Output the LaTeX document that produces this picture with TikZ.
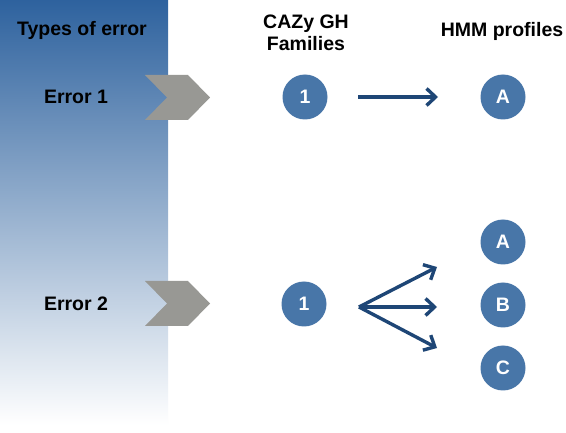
\documentclass[tikz,border=0pt]{standalone}
\usepackage{fontspec}
\setmainfont{Liberation Sans}
\usetikzlibrary{arrows.meta}
\definecolor{circblue}{RGB}{72,118,168}
\definecolor{arrblue}{RGB}{30,70,118}
\definecolor{chevgray}{RGB}{152,152,148}
\definecolor{paneltop}{RGB}{46,98,158}
\definecolor{panelmid}{RGB}{132,162,198}
\tikzset{
  lbl/.style={font=\fontsize{19.5}{22}\selectfont\bfseries, text=black, align=center, inner sep=0pt},
  circ/.style={circle, fill=circblue, minimum size=45pt, inner sep=0pt, text=white, font=\fontsize{19.5}{22}\selectfont\bfseries},
  arr/.style={draw=arrblue, line width=3.4pt, -{Straight Barb[length=9pt,width=17pt]}},
  chev/.style={fill=chevgray, draw=none}
}
\begin{document}
\begin{tikzpicture}[x=1pt,y=-1pt]
\useasboundingbox (0,0) rectangle (566,433);
\fill[white] (0,0) rectangle (566,433);
\shade[top color=paneltop, middle color=panelmid, bottom color=white] (0,0) rectangle (168,425);
% headers
\node[lbl] (types) at (82,30) {Types of error};
\node[lbl] (cazy) at (306,33) {CAZy GH\\Families};
\node[lbl] (hmm) at (502,31) {HMM profiles};
% error labels
\node[lbl] (err1) at (76,97) {Error 1};
\node[lbl] (err2) at (76,304) {Error 2};
% chevrons
\coordinate (c1) at (145,75);
\coordinate (c2) at (145,281);
\foreach \c in {c1,c2}{
  \fill[chev] (\c) -- ++(43,0) -- ++(22,22.5) -- ++(-22,22.5) -- ++(-43,0) -- ++(22,-22.5) -- cycle;
}
% circles
\node[circ] (f1) at (305,97) {1};
\node[circ] (p1) at (503,97) {A};
\node[circ] (f2) at (304,304) {1};
\node[circ] (pa) at (503,242) {A};
\node[circ] (pb) at (503,305) {B};
\node[circ] (pc) at (503,368) {C};
% arrows
\coordinate (s1) at (358,97);
\coordinate (e1) at (438,97);
\draw[arr] (s1) -- (e1);
\coordinate (s2) at (359,307);
\coordinate (ea) at (437,267);
\coordinate (eb) at (437,307);
\coordinate (ec) at (437,348);
\draw[arr] (s2) -- (ea);
\draw[arr] (s2) -- (eb);
\draw[arr] (s2) -- (ec);
\end{tikzpicture}
\end{document}
